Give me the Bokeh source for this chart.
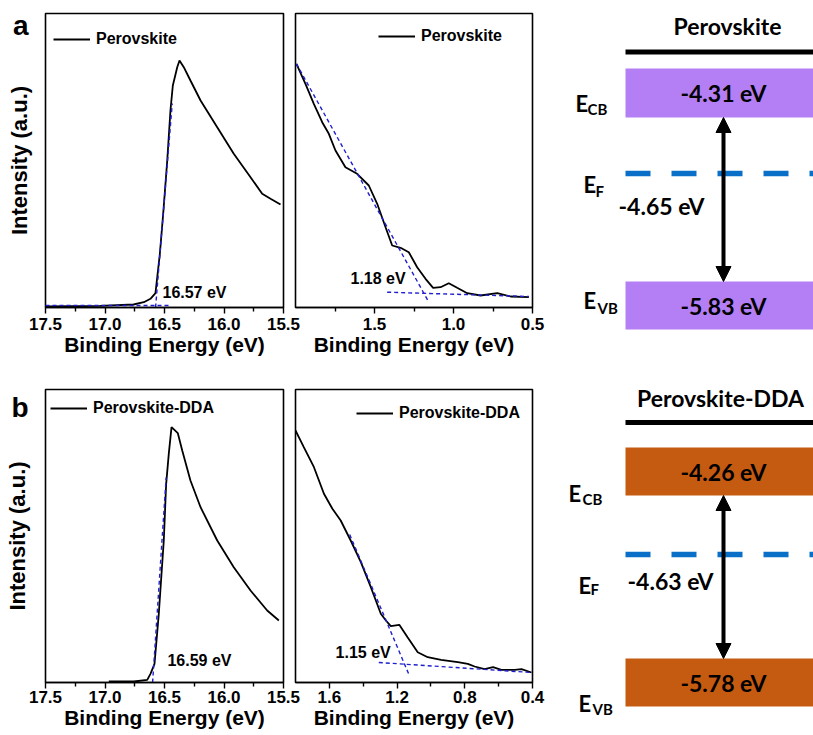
from bokeh.plotting import figure
from bokeh.layouts import row, column
from bokeh.models import (Range1d, FixedTicker, Label, Legend, LegendItem,
                          Arrow, NormalHead, NumeralTickFormatter)
from bokeh.core.properties import value
from bokeh.embed import file_html
from bokeh.resources import INLINE

# ---------------- data ----------------
# (a) secondary-electron cutoff, Perovskite
a_cut_x = [17.50, 17.04, 16.76, 16.674, 16.618, 16.576, 16.539, 16.511, 16.477, 16.450,
           16.430, 16.393, 16.374, 16.338, 16.282, 16.197, 16.057, 15.918, 15.777,
           15.679, 15.609, 15.525]
a_cut_y = [1.0, 1.7, 3.0, 5.3, 8.7, 14.3, 53.7, 93.7, 147.0, 197.0, 222.0, 240.3, 247.0,
           240.3, 227.0, 207.0, 180.3, 153.7, 130.3, 113.7, 108.7, 103.0]
a_cut_fit_edge_x = [16.575, 16.435]
a_cut_fit_edge_y = [0.0, 204.0]
a_cut_fit_base_x = [17.50, 16.45]
a_cut_fit_base_y = [2.0, 2.0]
a_cut_onset = "16.57 eV"

# (a) valence band edge, Perovskite
a_vb_x = [1.994, 1.937, 1.884, 1.831, 1.789, 1.747, 1.684, 1.610, 1.536, 1.483, 1.430,
          1.388, 1.335, 1.283, 1.230, 1.177, 1.129, 1.082, 1.030, 0.977, 0.913, 0.829,
          0.723, 0.639, 0.523]
a_vb_y = [243.7, 223.7, 203.7, 185.3, 173.7, 157.0, 140.3, 133.7, 122.0, 103.7, 80.3,
          62.0, 59.7, 55.3, 40.3, 28.7, 19.7, 20.3, 24.3, 19.7, 14.3, 12.0, 14.3, 11.0, 10.3]
a_vb_fit_edge_x = [1.994, 1.156]
a_vb_fit_edge_y = [243.7, 5.3]
a_vb_fit_base_x = [1.42, 0.523]
a_vb_fit_base_y = [15.3, 11.0]
a_vb_onset = "1.18 eV"

# (b) secondary-electron cutoff, Perovskite-DDA
b_cut_x = [16.968, 16.758, 16.645, 16.618, 16.584, 16.548, 16.506, 16.486, 16.464, 16.441,
           16.388, 16.351, 16.282, 16.197, 16.057, 15.918, 15.777, 15.637, 15.539]
b_cut_y = [1.0, 1.0, 2.7, 8.7, 18.7, 68.7, 142.0, 198.7, 228.7, 255.3, 249.3, 232.0,
           202.0, 175.3, 142.0, 115.3, 92.0, 72.0, 62.0]
b_cut_fit_edge_x = [16.600, 16.486]
b_cut_fit_edge_y = [0.0, 205.0]
b_cut_onset = "16.59 eV"

# (b) valence band edge, Perovskite-DDA
b_vb_x = [1.800, 1.751, 1.691, 1.632, 1.582, 1.533, 1.474, 1.414, 1.355, 1.296, 1.266,
          1.237, 1.187, 1.138, 1.078, 1.019, 0.940, 0.841, 0.782, 0.742, 0.683, 0.633,
          0.584, 0.505, 0.465, 0.406]
b_vb_y = [252.0, 235.3, 215.3, 188.7, 173.7, 162.0, 142.0, 120.3, 95.3, 68.7, 62.0, 56.3,
          57.7, 45.3, 30.3, 25.3, 22.7, 20.3, 18.7, 16.0, 13.3, 15.3, 12.7, 12.7, 13.3, 10.0]
b_vb_fit_edge_x = [1.48, 1.13]
b_vb_fit_edge_y = [148.0, 8.0]
b_vb_fit_base_x = [1.308, 0.406]
b_vb_fit_base_y = [20.0, 10.0]
b_vb_onset = "1.15 eV"

# energy-level diagrams
materials = ["Perovskite", "Perovskite-DDA"]
e_cb = [-4.31, -4.26]
e_f = [-4.65, -4.63]
e_vb = [-5.83, -5.78]
band_colors = ["#B47EF5", "#C55A11"]

# ticks
cut_ticks = [17.5, 17.0, 16.5, 16.0, 15.5]
cut_minor = [17.25, 16.75, 16.25, 15.75]
a_vb_ticks = [1.5, 1.0, 0.5]
a_vb_minor = [1.75, 1.25, 0.75]
b_vb_ticks = [1.6, 1.2, 0.8, 0.4]
b_vb_minor = [1.4, 1.0, 0.6]

ARIAL = "Liberation Sans"
CAL = "Lato"
FIT_COLOR = "#1f1fd0"


def spectrum(xr, ticks, minor, width, height, bl, br, bt, bb, ymax, letter,
             label_standoff):
    p = figure(width=width, height=height, output_backend="svg", toolbar_location=None,
               x_range=Range1d(*xr), y_range=Range1d(0, ymax),
               min_border_left=bl, min_border_right=br, min_border_top=bt,
               min_border_bottom=bb)
    p.xgrid.visible = False
    p.ygrid.visible = False
    p.outline_line_color = "black"
    p.outline_line_width = 1.6
    p.background_fill_color = "white"
    p.border_fill_color = None
    p.border_fill_alpha = 0
    xa = p.xaxis[0]
    xa.ticker = FixedTicker(ticks=ticks, minor_ticks=minor)
    xa.formatter = NumeralTickFormatter(format="0.0")
    xa.axis_line_color = "black"
    xa.axis_line_width = 1.6
    xa.major_tick_in = 0
    xa.major_tick_out = 6
    xa.minor_tick_in = 0
    xa.minor_tick_out = 4
    xa.major_tick_line_width = 1.4
    xa.minor_tick_line_width = 1.4
    xa.major_label_text_font = ARIAL
    xa.major_label_text_font_style = "bold"
    xa.major_label_text_font_size = "17px"
    xa.major_label_text_color = "black"
    xa.major_label_standoff = label_standoff
    xa.axis_label = "Binding Energy (eV)"
    xa.axis_label_text_font = ARIAL
    xa.axis_label_text_font_style = "bold"
    xa.axis_label_text_font_size = "21px"
    xa.axis_label_text_color = "black"
    xa.axis_label_standoff = 0
    ya = p.yaxis[0]
    if letter is not None:
        # panel letter is carried as the single (horizontal) label of the left axis
        lpos = ymax - letter[1]
        ya.ticker = FixedTicker(ticks=[lpos])
        ya.major_label_overrides = {lpos: letter[0]}
        ya.major_label_text_font = ARIAL
        ya.major_label_text_font_style = "bold"
        ya.major_label_text_font_size = "28px"
        ya.major_label_text_color = "black"
        ya.major_label_standoff = 17
        ya.major_tick_line_color = None
        ya.minor_tick_line_color = None
        ya.axis_line_color = None
        ya.major_tick_out = 0
        ya.minor_tick_out = 0
        ya.axis_label = "Intensity (a.u.)"
        ya.axis_label_text_font = ARIAL
        ya.axis_label_text_font_style = "bold"
        ya.axis_label_text_font_size = "22px"
        ya.axis_label_text_color = "black"
        ya.axis_label_standoff = -22
    else:
        ya.visible = False
    return p


def add_curve(p, x, y, name, legend_xy):
    r = p.line(x, y, line_color="black", line_width=1.8)
    leg = Legend(items=[LegendItem(label=name, renderers=[r])], location=legend_xy,
                 glyph_width=37, glyph_height=20, label_height=20, label_standoff=6,
                 padding=0, margin=0, spacing=0, border_line_alpha=0,
                 background_fill_alpha=0, label_text_font=ARIAL,
                 label_text_font_style="bold", label_text_font_size="16px",
                 label_text_color="black")
    p.add_layout(leg)
    return r


def add_fit(p, x, y):
    p.line(x, y, line_color=FIT_COLOR, line_width=1.4, line_dash="4 3")


def add_note(p, x, y, text, size="16px"):
    p.add_layout(Label(x=x, y=y, text=text, text_font=ARIAL, text_font_style="bold",
                       text_font_size=size, text_baseline="middle", text_align="left",
                       text_color="black"))


def diagram(i, width, height, geo):
    p = figure(width=width, height=height, output_backend="svg", toolbar_location=None,
               x_range=Range1d(0, width), y_range=Range1d(height, 0),
               min_border=0)
    p.frame_align = False
    p.axis.visible = False
    p.grid.visible = False
    p.outline_line_color = None
    p.border_fill_color = None
    p.border_fill_alpha = 0
    p.background_fill_color = "white"
    x0, x1 = geo["x0"], geo["x1"]
    # title and top bar
    p.text(x=[geo["title_x"]], y=[geo["title_y"]], text=[materials[i]],
           text_font=value(CAL), text_font_style="bold", text_font_size="23px",
           text_align="center", text_baseline="middle", text_color="black")
    p.line([x0, x1], [geo["bar_y"], geo["bar_y"]], line_color="black", line_width=5)
    # bands
    p.quad(left=[x0, x0], right=[x1, x1], top=[geo["cb"][0], geo["vb"][0]],
           bottom=[geo["cb"][1], geo["vb"][1]], fill_color=band_colors[i],
           line_color=None)
    cb_mid = (geo["cb"][0] + geo["cb"][1]) / 2
    vb_mid = (geo["vb"][0] + geo["vb"][1]) / 2
    p.text(x=[geo["val_x"], geo["val_x"]], y=[cb_mid, vb_mid],
           text=[f"{e_cb[i]:.2f} eV", f"{e_vb[i]:.2f} eV"],
           text_font=value(CAL), text_font_style="bold", text_font_size="23px",
           text_align="center", text_baseline="middle", text_color="black")
    # Fermi level
    p.line([x0, x1], [geo["ef_y"], geo["ef_y"]], line_color="#0A6FC7", line_width=5.5,
           line_dash="25 21")
    p.text(x=[geo["efv_x"]], y=[geo["efv_y"]], text=[f"{e_f[i]:.2f} eV"],
           text_font=value(CAL), text_font_style="bold", text_font_size="23px",
           text_align="left", text_baseline="middle", text_color="black")
    # level labels E_CB, E_F, E_VB
    for (ex, ey, sub, sx, sy) in geo["labels"]:
        p.text(x=[ex], y=[ey], text=["E"], text_font=value(CAL), text_font_style="bold",
               text_font_size="22px", text_align="left", text_baseline="alphabetic",
               text_color="black")
        p.text(x=[sx], y=[sy], text=[sub], text_font=value(CAL), text_font_style="bold",
               text_font_size="15px", text_align="left", text_baseline="alphabetic",
               text_color="black")
    # gap arrow
    p.add_layout(Arrow(x_start=geo["val_x"], y_start=geo["cb"][1], x_end=geo["val_x"],
                       y_end=geo["vb"][0], line_color="black", line_width=4,
                       start=NormalHead(size=15, fill_color="black", line_color="black"),
                       end=NormalHead(size=15, fill_color="black", line_color="black")))
    return p


# ---------------- row (a) ----------------
TOP_H = 370
pa1 = spectrum((17.5, 15.5), cut_ticks, cut_minor, 302, TOP_H, 45, 19, 13, 63, 294,
               ("a", 12), 4)
add_curve(pa1, a_cut_x, a_cut_y, "Perovskite", (8, 258))
add_fit(pa1, a_cut_fit_edge_x, a_cut_fit_edge_y)
add_fit(pa1, a_cut_fit_base_x, a_cut_fit_base_y)
add_note(pa1, 16.517, 15, a_cut_onset)

pa2 = spectrum((2.0, 0.5), a_vb_ticks, a_vb_minor, 259, TOP_H, 7, 15, 13, 63, 294, None, 4)
add_curve(pa2, a_vb_x, a_vb_y, "Perovskite", (83, 261))
add_fit(pa2, a_vb_fit_edge_x, a_vb_fit_edge_y)
add_fit(pa2, a_vb_fit_base_x, a_vb_fit_base_y)
add_note(pa2, 1.652, 29, a_vb_onset)
pa2.margin = (0, 0, 0, -14)

geo_a = dict(x0=78, x1=266, title_x=180, title_y=25, bar_y=51.5, cb=(68, 117),
             vb=(281, 329), val_x=176, ef_y=173, efv_x=71, efv_y=205,
             labels=[(28, 103, "CB", 40, 108), (36, 184, "F", 48, 190),
                     (36, 300, "VB", 50, 307)])
pa3 = diagram(0, 266, TOP_H, geo_a)

# ---------------- row (b) ----------------
BOT_H = 365
pb1 = spectrum((17.5, 15.5), cut_ticks, cut_minor, 302, BOT_H, 45, 19, 19, 53, 293,
               ("b", 18), 2)
add_curve(pb1, b_cut_x, b_cut_y, "Perovskite-DDA", (5, 264))
add_fit(pb1, b_cut_fit_edge_x, b_cut_fit_edge_y)
add_note(pb1, 16.475, 22, b_cut_onset)

pb2 = spectrum((1.8, 0.4), b_vb_ticks, b_vb_minor, 259, BOT_H, 7, 15, 19, 53, 293, None, 2)
add_curve(pb2, b_vb_x, b_vb_y, "Perovskite-DDA", (61, 259))
add_fit(pb2, b_vb_fit_edge_x, b_vb_fit_edge_y)
add_fit(pb2, b_vb_fit_base_x, b_vb_fit_base_y)
add_note(pb2, 1.563, 30, b_vb_onset)
pb2.margin = (0, 0, 0, -14)

geo_b = dict(x0=78, x1=266, title_x=173, title_y=27, bar_y=52, cb=(77, 125),
             vb=(288, 336), val_x=176, ef_y=184, efv_x=80, efv_y=210,
             labels=[(21, 123, "CB", 35, 128), (31, 215, "F", 43, 218),
                     (31, 333, "VB", 45, 338)])
pb3 = diagram(1, 266, BOT_H, geo_b)

layout = column(row(pa1, pa2, pa3), row(pb1, pb2, pb3))
open("out.html", "w").write(file_html(layout, INLINE))
